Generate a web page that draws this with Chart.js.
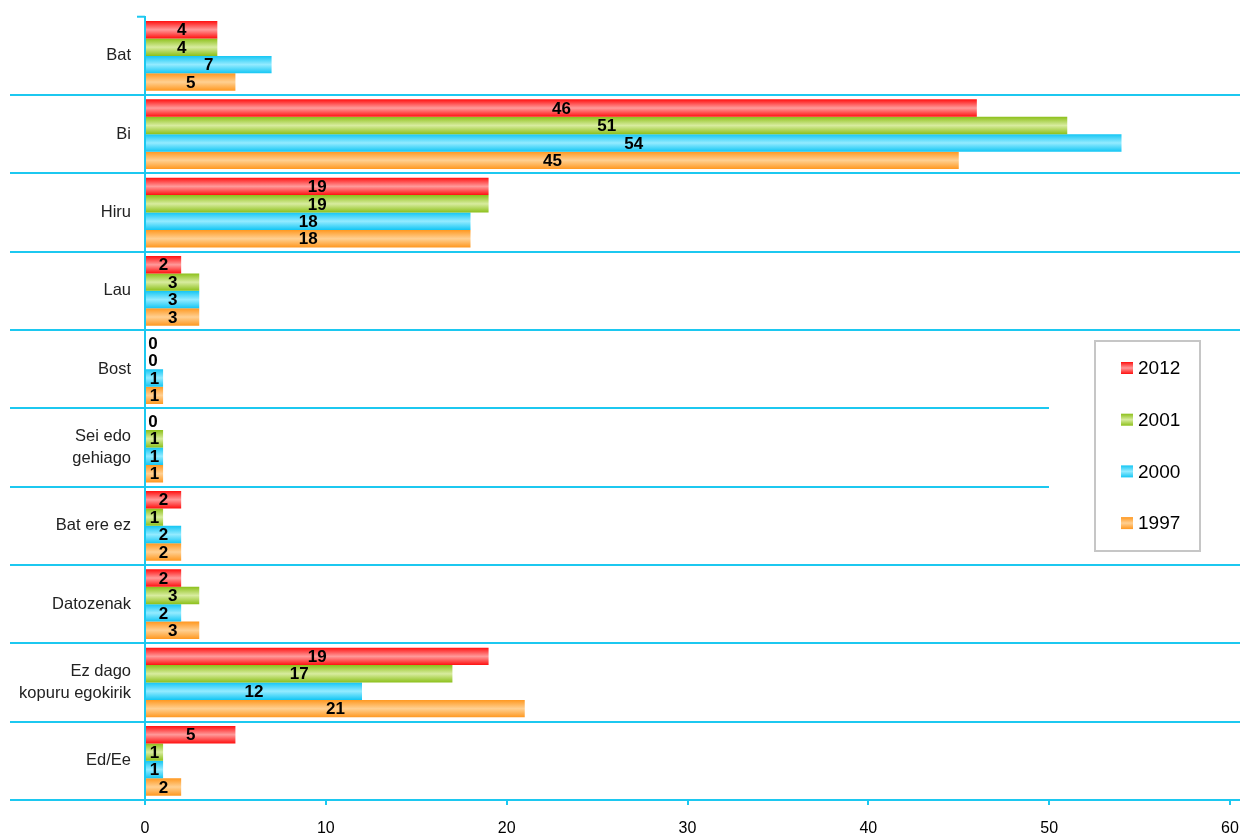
<!DOCTYPE html>
<html>
<head>
<meta charset="utf-8">
<script src="https://cdn.jsdelivr.net/npm/chart.js@4/dist/chart.umd.min.js"></script>
<style>
  html, body { margin: 0; padding: 0; background: #fff; }
  #wrap { width: 1244px; height: 838px; position: relative; }
</style>
</head>
<body>
<div id="wrap"><canvas id="myChart"></canvas></div>
<script>
// categories and series
const categories = ['Bat', 'Bi', 'Hiru', 'Lau', 'Bost', ['Sei edo', 'gehiago'], 'Bat ere ez', 'Datozenak', ['Ez dago', 'kopuru egokirik'], 'Ed/Ee'];
const seriesNames = ['2012', '2001', '2000', '1997'];
const v2012 = [4, 46, 19, 2, 0, 0, 2, 2, 19, 5];
const v2001 = [4, 51, 19, 3, 0, 1, 1, 3, 17, 1];
const v2000 = [7, 54, 18, 3, 1, 1, 2, 2, 12, 1];
const v1997 = [5, 45, 18, 3, 1, 1, 2, 3, 21, 2];
const xTicks = [0, 10, 20, 30, 40, 50, 60];

// edge colour / middle colour for the shaded bars
const shades = [
  ['#ff1010', '#ff9a9a'],
  ['#8cc01a', '#d8ec9f'],
  ['#14c6f4', '#94ebff'],
  ['#ff9820', '#ffd092'],
];
const cyan = '#1cc8f0';
const font = '"Liberation Sans", Arial, sans-serif';

function shade(ctx, top, h, i) {
  const g = ctx.createLinearGradient(0, top, 0, top + h);
  g.addColorStop(0, shades[i][0]);
  g.addColorStop(0.5, shades[i][1]);
  g.addColorStop(1, shades[i][0]);
  return g;
}

function barColor(i) {
  return function (c) {
    const el = c.element;
    if (!el || el.height == null || isNaN(el.y)) return shades[i][0];
    return shade(c.chart.ctx, el.y - el.height / 2, el.height, i);
  };
}

const gridLines = {
  id: 'gridLines',
  beforeDatasetsDraw(chart) {
    const ctx = chart.ctx;
    const y = chart.scales.y;
    const area = chart.chartArea;
    const half = (y.getPixelForValue(1) - y.getPixelForValue(0)) / 2;
    ctx.save();
    ctx.strokeStyle = cyan;
    ctx.lineWidth = 2;
    for (let i = 0; i < categories.length; i++) {
      const py = Math.round(y.getPixelForValue(i) + half);
      const right = (py > 335 && py < 555) ? 1049 : 1240;
      ctx.beginPath();
      ctx.moveTo(10, py);
      ctx.lineTo(right, py);
      ctx.stroke();
    }
    // small tick at top of the axis
    ctx.beginPath();
    ctx.moveTo(137, area.top);
    ctx.lineTo(area.left, area.top);
    ctx.stroke();
    ctx.restore();
  }
};

const barLabels = {
  id: 'barLabels',
  afterDatasetsDraw(chart) {
    const ctx = chart.ctx;
    ctx.save();
    ctx.font = 'bold 17px ' + font;
    ctx.fillStyle = '#000';
    ctx.textAlign = 'center';
    ctx.textBaseline = 'middle';
    chart.data.datasets.forEach((ds, di) => {
      chart.getDatasetMeta(di).data.forEach((el, i) => {
        const cx = Math.max((el.x + el.base) / 2, el.base + 8);
        ctx.fillText(String(ds.data[i]), cx, el.y + 1);
      });
    });
    ctx.restore();
  }
};

const boxLegend = {
  id: 'boxLegend',
  afterDraw(chart) {
    const ctx = chart.ctx;
    ctx.save();
    ctx.fillStyle = '#fff';
    ctx.fillRect(1095, 341, 105, 210);
    ctx.strokeStyle = '#c6c6c6';
    ctx.lineWidth = 2;
    ctx.strokeRect(1095, 341, 105, 210);
    ctx.font = '19px ' + font;
    ctx.textBaseline = 'middle';
    chart.data.datasets.forEach((ds, i) => {
      const cy = 368 + i * 51.7;
      ctx.fillStyle = shade(ctx, cy - 6, 12, i);
      ctx.fillRect(1121, cy - 6, 12, 12);
      ctx.fillStyle = '#000';
      ctx.fillText(ds.label, 1138, cy + 1);
    });
    ctx.restore();
  }
};

const seriesValues = [v2012, v2001, v2000, v1997];

const ctx = document.getElementById('myChart').getContext('2d');
const myChart = new Chart(ctx, {
  type: 'bar',
  data: {
    labels: categories,
    datasets: seriesNames.map((name, i) => ({
      label: name,
      data: seriesValues[i],
      backgroundColor: barColor(i),
      borderWidth: 0,
      categoryPercentage: 0.89,
      barPercentage: 1.0,
    })),
  },
  options: {
    indexAxis: 'y',
    responsive: true,
    maintainAspectRatio: false,
    animation: false,
    layout: { padding: { top: 14, right: 0, left: 0, bottom: 0 } },
    plugins: {
      legend: { display: false },
      tooltip: { enabled: false },
    },
    scales: {
      x: {
        min: 0,
        max: 60,
        afterBuildTicks(s) { s.ticks = xTicks.map(v => ({ value: v })); },
        afterFit(s) { s.height = 38; s.paddingLeft = 0; s.paddingRight = 14; },
        grid: { drawOnChartArea: false, drawTicks: true, tickLength: 5, color: cyan, lineWidth: 2 },
        border: { display: false },
        ticks: {
          color: '#000',
          padding: 14,
          maxRotation: 0,
          font: { family: font, size: 16 },
        },
      },
      y: {
        afterFit(s) { s.width = 145; },
        grid: { display: false },
        border: { display: true, color: cyan, width: 2 },
        ticks: {
          color: '#222',
          padding: 6,
          font: { family: font, size: 16.5, lineHeight: 1.3 },
        },
      },
    },
  },
  plugins: [gridLines, barLabels, boxLegend],
});
// second pass so each bar gets its gradient from its own position
myChart.update('none');
</script>
</body>
</html>
